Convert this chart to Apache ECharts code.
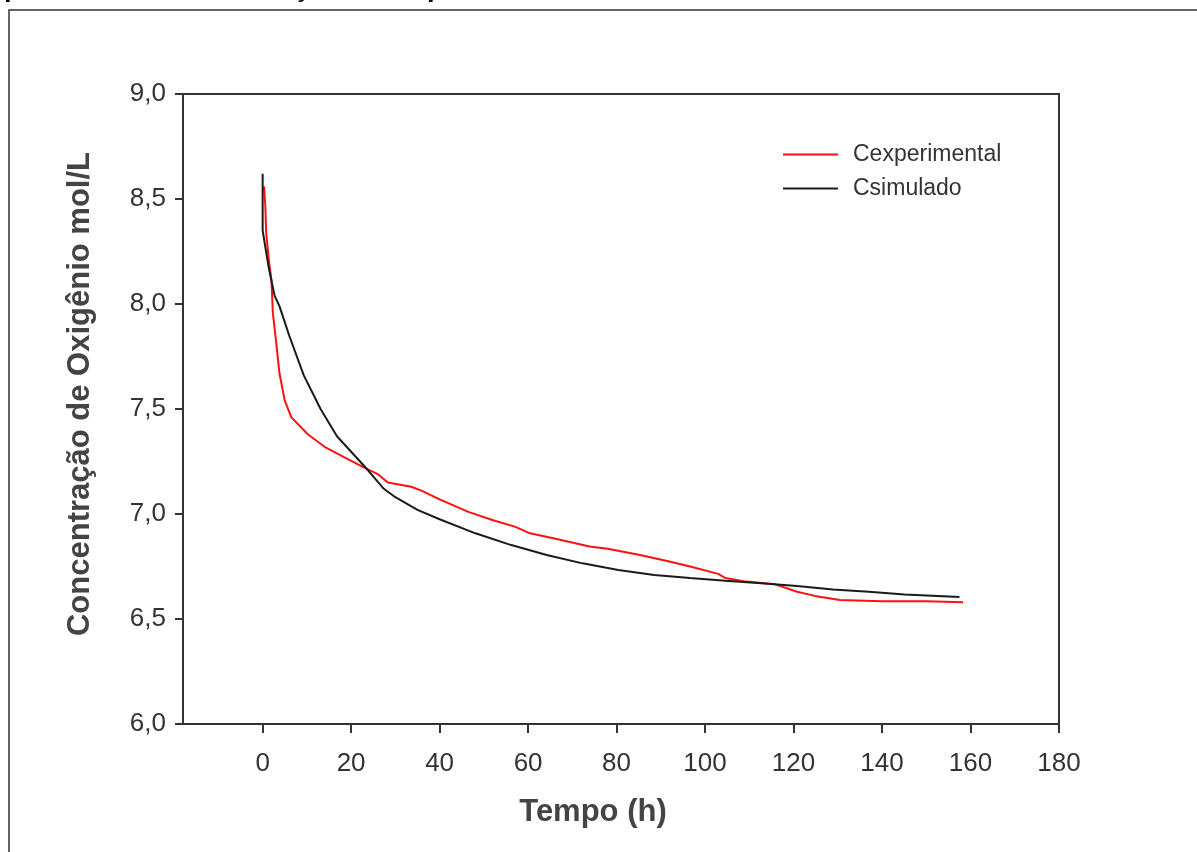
<!DOCTYPE html>
<html>
<head>
<meta charset="utf-8">
<script src="https://cdn.jsdelivr.net/npm/echarts@6/dist/echarts.min.js"></script>
<style>html,body{margin:0;padding:0;background:#fff;}#c{width:1197px;height:852px;}</style>
</head>
<body>
<div id="c"></div>
<script>
const seriesNames = ['Cexperimental', 'Csimulado'];
const expX = [0.3, 0.6, 0.8, 1.4, 2.0, 2.3, 3.1, 3.8, 5.0, 6.5, 10.2, 14, 18.5, 23.1, 26, 28.3, 33.6, 36, 40, 46.5, 52.1, 57, 60.2, 66.7, 73.9, 78, 85.3, 91.7, 96.6, 103, 104.6, 108.7, 115.9, 120.8, 124.8, 130.5, 140, 150, 158.3];
const expY = [8.56, 8.47, 8.34, 8.21, 8.11, 7.96, 7.81, 7.67, 7.54, 7.46, 7.38, 7.32, 7.27, 7.22, 7.19, 7.15, 7.13, 7.11, 7.07, 7.01, 6.97, 6.94, 6.91, 6.88, 6.845, 6.835, 6.805, 6.775, 6.75, 6.715, 6.695, 6.68, 6.665, 6.63, 6.61, 6.59, 6.585, 6.585, 6.58];
const simX = [0, 0, 1.4, 2.7, 3.8, 6.0, 9.3, 13.1, 16.8, 22.9, 27.4, 30, 35, 40, 48.1, 56.2, 64.2, 72.3, 80.4, 88.5, 96.6, 104.6, 112.7, 120.8, 128.9, 137, 145.1, 157.5];
const simY = [8.62, 8.35, 8.17, 8.04, 7.99, 7.85, 7.66, 7.50, 7.37, 7.23, 7.12, 7.08, 7.02, 6.975, 6.908, 6.852, 6.805, 6.765, 6.733, 6.71, 6.695, 6.682, 6.67, 6.657, 6.641, 6.63, 6.617, 6.605];
const xTicks = [0, 20, 40, 60, 80, 100, 120, 140, 160, 180];
const xTitle = 'Tempo (h)';
const yTitle = 'Concentração de Oxigênio mol/L';
const topText = 'quadrado da concentração do sequestrante';

const pairs = (xs, ys) => xs.map((x, i) => [x, ys[i]]);
const chart = echarts.init(document.getElementById('c'));
const labelFont = { fontFamily: 'Liberation Sans', fontSize: 26, color: '#333' };
chart.setOption({
  animation: false,
  backgroundColor: '#fff',
  grid: { left: 183, right: 138, top: 94, bottom: 128, show: true, borderColor: '#333', borderWidth: 2, backgroundColor: 'transparent' },
  legend: {
    orient: 'vertical', left: 778, top: 138, itemWidth: 55, itemHeight: 2, itemGap: 11, icon: 'rect',
    data: seriesNames,
    textStyle: { fontFamily: 'Liberation Sans', fontSize: 23, color: '#333', padding: [0, 0, 0, 10] }
  },
  xAxis: {
    type: 'value', min: -18, max: 180,
    axisLine: { onZero: false, lineStyle: { color: '#333', width: 2 } },
    axisTick: { show: true, customValues: xTicks, length: 9, lineStyle: { color: '#333', width: 2 } },
    axisLabel: Object.assign({ customValues: xTicks, margin: 27 }, labelFont),
    splitLine: { show: false }
  },
  yAxis: {
    type: 'value', min: 6, max: 9, interval: 0.5,
    axisLine: { show: true, onZero: false, lineStyle: { color: '#333', width: 2 } },
    axisTick: { show: true, length: 8, lineStyle: { color: '#333', width: 2 } },
    axisLabel: Object.assign({ margin: 17, formatter: v => v.toFixed(1).replace('.', ',') }, labelFont),
    splitLine: { show: false }
  },
  series: [
    { name: seriesNames[0], type: 'line', data: pairs(expX, expY), symbol: 'none', lineStyle: { color: '#ff1010', width: 2 }, itemStyle: { color: '#ff1010' } },
    { name: seriesNames[1], type: 'line', data: pairs(simX, simY), symbol: 'none', lineStyle: { color: '#1a1a1a', width: 2 }, itemStyle: { color: '#1a1a1a' } }
  ],
  graphic: [
    { type: 'rect', shape: { x: 9, y: 10, width: 1200, height: 900 }, style: { fill: 'none', stroke: '#333', lineWidth: 1.5 }, silent: true },
    { type: 'text', x: -5, y: 2, style: { text: topText, font: 'bold 27px "Liberation Sans"', fill: '#000', verticalAlign: 'bottom' } },
    { type: 'text', x: 80, y: 394, rotation: Math.PI / 2, style: { text: yTitle, font: 'bold 31px "Liberation Sans"', fill: '#444', align: 'center', verticalAlign: 'middle' } },
    { type: 'text', x: 593, y: 812, style: { text: xTitle, font: 'bold 31px "Liberation Sans"', fill: '#444', align: 'center', verticalAlign: 'middle' } }
  ]
});
</script>
</body>
</html>
